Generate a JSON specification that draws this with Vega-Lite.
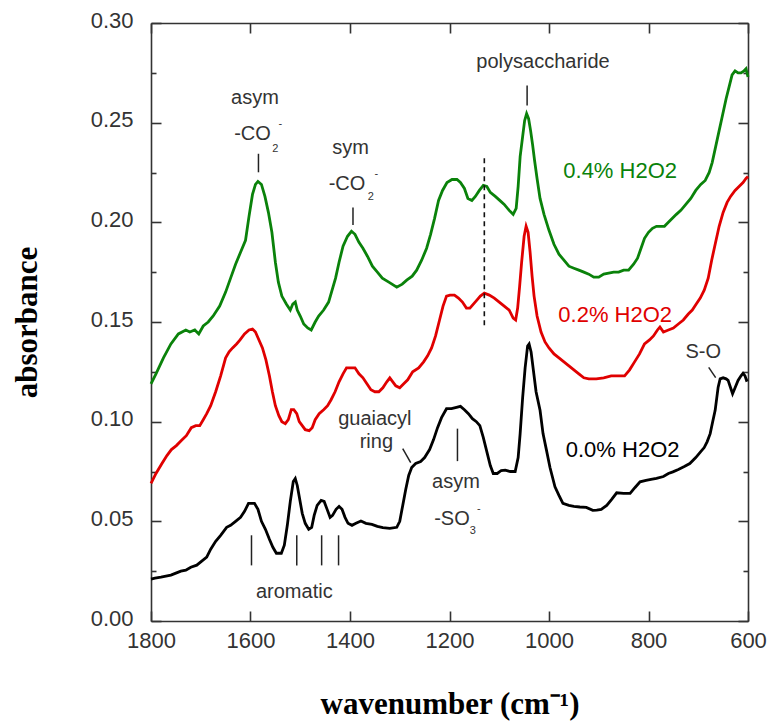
{
  "$schema": "https://vega.github.io/schema/vega-lite/v6.json",
  "width": 597,
  "height": 598,
  "autosize": "none",
  "padding": {"left": 151, "top": 23, "right": 21, "bottom": 104},
  "background": "white",
  "config": {
    "view": {"stroke": null},
    "axis": {
      "domainColor": "#333333",
      "domainWidth": 1.6,
      "tickColor": "#333333",
      "tickWidth": 1.6,
      "grid": false,
      "labelFont": "Liberation Sans",
      "labelFontSize": 22,
      "labelColor": "#333333",
      "labelOverlap": false,
      "labelFlush": false,
      "labelBound": false,
      "titleFont": "Liberation Serif",
      "titleFontSize": 31,
      "titleFontWeight": "bold",
      "titleColor": "#000000"
    }
  },
  "datasets": {
    "spectra": [
      {"wn": 1800, "A": 0.119, "s": "0.4% H2O2"}, {"wn": 1790, "A": 0.124, "s": "0.4% H2O2"}, {"wn": 1775, "A": 0.132, "s": "0.4% H2O2"}, {"wn": 1760, "A": 0.139, "s": "0.4% H2O2"}, {"wn": 1745, "A": 0.144, "s": "0.4% H2O2"}, {"wn": 1730, "A": 0.146, "s": "0.4% H2O2"}, {"wn": 1722, "A": 0.145, "s": "0.4% H2O2"}, {"wn": 1712, "A": 0.146, "s": "0.4% H2O2"}, {"wn": 1704, "A": 0.144, "s": "0.4% H2O2"}, {"wn": 1695, "A": 0.148, "s": "0.4% H2O2"}, {"wn": 1685, "A": 0.15, "s": "0.4% H2O2"}, {"wn": 1675, "A": 0.153, "s": "0.4% H2O2"}, {"wn": 1662, "A": 0.158, "s": "0.4% H2O2"}, {"wn": 1650, "A": 0.165, "s": "0.4% H2O2"}, {"wn": 1640, "A": 0.172, "s": "0.4% H2O2"}, {"wn": 1630, "A": 0.179, "s": "0.4% H2O2"}, {"wn": 1620, "A": 0.185, "s": "0.4% H2O2"}, {"wn": 1610, "A": 0.191, "s": "0.4% H2O2"}, {"wn": 1603, "A": 0.203, "s": "0.4% H2O2"}, {"wn": 1596, "A": 0.214, "s": "0.4% H2O2"}, {"wn": 1590, "A": 0.219, "s": "0.4% H2O2"}, {"wn": 1585, "A": 0.2205, "s": "0.4% H2O2"}, {"wn": 1578, "A": 0.219, "s": "0.4% H2O2"}, {"wn": 1571, "A": 0.213, "s": "0.4% H2O2"}, {"wn": 1564, "A": 0.205, "s": "0.4% H2O2"}, {"wn": 1557, "A": 0.195, "s": "0.4% H2O2"}, {"wn": 1550, "A": 0.18, "s": "0.4% H2O2"}, {"wn": 1544, "A": 0.17, "s": "0.4% H2O2"}, {"wn": 1537, "A": 0.163, "s": "0.4% H2O2"}, {"wn": 1528, "A": 0.159, "s": "0.4% H2O2"}, {"wn": 1520, "A": 0.156, "s": "0.4% H2O2"}, {"wn": 1515, "A": 0.159, "s": "0.4% H2O2"}, {"wn": 1510, "A": 0.16, "s": "0.4% H2O2"}, {"wn": 1506, "A": 0.156, "s": "0.4% H2O2"}, {"wn": 1500, "A": 0.153, "s": "0.4% H2O2"}, {"wn": 1493, "A": 0.149, "s": "0.4% H2O2"}, {"wn": 1485, "A": 0.147, "s": "0.4% H2O2"}, {"wn": 1478, "A": 0.146, "s": "0.4% H2O2"}, {"wn": 1470, "A": 0.15, "s": "0.4% H2O2"}, {"wn": 1463, "A": 0.153, "s": "0.4% H2O2"}, {"wn": 1453, "A": 0.156, "s": "0.4% H2O2"}, {"wn": 1443, "A": 0.16, "s": "0.4% H2O2"}, {"wn": 1436, "A": 0.166, "s": "0.4% H2O2"}, {"wn": 1429, "A": 0.172, "s": "0.4% H2O2"}, {"wn": 1422, "A": 0.18, "s": "0.4% H2O2"}, {"wn": 1414, "A": 0.188, "s": "0.4% H2O2"}, {"wn": 1405, "A": 0.193, "s": "0.4% H2O2"}, {"wn": 1397, "A": 0.1955, "s": "0.4% H2O2"}, {"wn": 1390, "A": 0.194, "s": "0.4% H2O2"}, {"wn": 1382, "A": 0.19, "s": "0.4% H2O2"}, {"wn": 1374, "A": 0.187, "s": "0.4% H2O2"}, {"wn": 1365, "A": 0.183, "s": "0.4% H2O2"}, {"wn": 1355, "A": 0.178, "s": "0.4% H2O2"}, {"wn": 1345, "A": 0.175, "s": "0.4% H2O2"}, {"wn": 1335, "A": 0.172, "s": "0.4% H2O2"}, {"wn": 1322, "A": 0.17, "s": "0.4% H2O2"}, {"wn": 1306, "A": 0.1675, "s": "0.4% H2O2"}, {"wn": 1295, "A": 0.169, "s": "0.4% H2O2"}, {"wn": 1286, "A": 0.171, "s": "0.4% H2O2"}, {"wn": 1275, "A": 0.173, "s": "0.4% H2O2"}, {"wn": 1266, "A": 0.176, "s": "0.4% H2O2"}, {"wn": 1256, "A": 0.181, "s": "0.4% H2O2"}, {"wn": 1246, "A": 0.187, "s": "0.4% H2O2"}, {"wn": 1238, "A": 0.194, "s": "0.4% H2O2"}, {"wn": 1230, "A": 0.202, "s": "0.4% H2O2"}, {"wn": 1222, "A": 0.211, "s": "0.4% H2O2"}, {"wn": 1214, "A": 0.216, "s": "0.4% H2O2"}, {"wn": 1205, "A": 0.22, "s": "0.4% H2O2"}, {"wn": 1195, "A": 0.2215, "s": "0.4% H2O2"}, {"wn": 1185, "A": 0.2215, "s": "0.4% H2O2"}, {"wn": 1178, "A": 0.22, "s": "0.4% H2O2"}, {"wn": 1170, "A": 0.217, "s": "0.4% H2O2"}, {"wn": 1163, "A": 0.212, "s": "0.4% H2O2"}, {"wn": 1155, "A": 0.211, "s": "0.4% H2O2"}, {"wn": 1148, "A": 0.213, "s": "0.4% H2O2"}, {"wn": 1140, "A": 0.216, "s": "0.4% H2O2"}, {"wn": 1132, "A": 0.2185, "s": "0.4% H2O2"}, {"wn": 1125, "A": 0.218, "s": "0.4% H2O2"}, {"wn": 1118, "A": 0.215, "s": "0.4% H2O2"}, {"wn": 1108, "A": 0.213, "s": "0.4% H2O2"}, {"wn": 1099, "A": 0.211, "s": "0.4% H2O2"}, {"wn": 1090, "A": 0.209, "s": "0.4% H2O2"}, {"wn": 1080, "A": 0.206, "s": "0.4% H2O2"}, {"wn": 1072, "A": 0.204, "s": "0.4% H2O2"}, {"wn": 1066, "A": 0.207, "s": "0.4% H2O2"}, {"wn": 1062, "A": 0.218, "s": "0.4% H2O2"}, {"wn": 1058, "A": 0.233, "s": "0.4% H2O2"}, {"wn": 1053, "A": 0.243, "s": "0.4% H2O2"}, {"wn": 1049, "A": 0.251, "s": "0.4% H2O2"}, {"wn": 1045, "A": 0.2545, "s": "0.4% H2O2"}, {"wn": 1041, "A": 0.252, "s": "0.4% H2O2"}, {"wn": 1037, "A": 0.246, "s": "0.4% H2O2"}, {"wn": 1033, "A": 0.239, "s": "0.4% H2O2"}, {"wn": 1029, "A": 0.231, "s": "0.4% H2O2"}, {"wn": 1024, "A": 0.222, "s": "0.4% H2O2"}, {"wn": 1018, "A": 0.212, "s": "0.4% H2O2"}, {"wn": 1010, "A": 0.204, "s": "0.4% H2O2"}, {"wn": 1000, "A": 0.196, "s": "0.4% H2O2"}, {"wn": 990, "A": 0.189, "s": "0.4% H2O2"}, {"wn": 980, "A": 0.184, "s": "0.4% H2O2"}, {"wn": 970, "A": 0.181, "s": "0.4% H2O2"}, {"wn": 960, "A": 0.178, "s": "0.4% H2O2"}, {"wn": 950, "A": 0.177, "s": "0.4% H2O2"}, {"wn": 940, "A": 0.176, "s": "0.4% H2O2"}, {"wn": 930, "A": 0.175, "s": "0.4% H2O2"}, {"wn": 920, "A": 0.174, "s": "0.4% H2O2"}, {"wn": 910, "A": 0.1725, "s": "0.4% H2O2"}, {"wn": 900, "A": 0.1725, "s": "0.4% H2O2"}, {"wn": 890, "A": 0.174, "s": "0.4% H2O2"}, {"wn": 880, "A": 0.1745, "s": "0.4% H2O2"}, {"wn": 870, "A": 0.175, "s": "0.4% H2O2"}, {"wn": 860, "A": 0.175, "s": "0.4% H2O2"}, {"wn": 850, "A": 0.176, "s": "0.4% H2O2"}, {"wn": 840, "A": 0.176, "s": "0.4% H2O2"}, {"wn": 830, "A": 0.179, "s": "0.4% H2O2"}, {"wn": 822, "A": 0.182, "s": "0.4% H2O2"}, {"wn": 815, "A": 0.187, "s": "0.4% H2O2"}, {"wn": 808, "A": 0.192, "s": "0.4% H2O2"}, {"wn": 800, "A": 0.195, "s": "0.4% H2O2"}, {"wn": 792, "A": 0.197, "s": "0.4% H2O2"}, {"wn": 784, "A": 0.198, "s": "0.4% H2O2"}, {"wn": 775, "A": 0.198, "s": "0.4% H2O2"}, {"wn": 768, "A": 0.198, "s": "0.4% H2O2"}, {"wn": 760, "A": 0.2, "s": "0.4% H2O2"}, {"wn": 752, "A": 0.202, "s": "0.4% H2O2"}, {"wn": 744, "A": 0.204, "s": "0.4% H2O2"}, {"wn": 735, "A": 0.206, "s": "0.4% H2O2"}, {"wn": 725, "A": 0.209, "s": "0.4% H2O2"}, {"wn": 715, "A": 0.212, "s": "0.4% H2O2"}, {"wn": 705, "A": 0.216, "s": "0.4% H2O2"}, {"wn": 695, "A": 0.219, "s": "0.4% H2O2"}, {"wn": 686, "A": 0.221, "s": "0.4% H2O2"}, {"wn": 678, "A": 0.225, "s": "0.4% H2O2"}, {"wn": 672, "A": 0.23, "s": "0.4% H2O2"}, {"wn": 665, "A": 0.238, "s": "0.4% H2O2"}, {"wn": 658, "A": 0.246, "s": "0.4% H2O2"}, {"wn": 651, "A": 0.254, "s": "0.4% H2O2"}, {"wn": 644, "A": 0.262, "s": "0.4% H2O2"}, {"wn": 637, "A": 0.269, "s": "0.4% H2O2"}, {"wn": 632, "A": 0.274, "s": "0.4% H2O2"}, {"wn": 626, "A": 0.276, "s": "0.4% H2O2"}, {"wn": 620, "A": 0.275, "s": "0.4% H2O2"}, {"wn": 614, "A": 0.275, "s": "0.4% H2O2"}, {"wn": 608, "A": 0.276, "s": "0.4% H2O2"}, {"wn": 604, "A": 0.277, "s": "0.4% H2O2"}, {"wn": 600, "A": 0.273, "s": "0.4% H2O2"},

      {"wn": 1800, "A": 0.069, "s": "0.2% H2O2"}, {"wn": 1790, "A": 0.074, "s": "0.2% H2O2"}, {"wn": 1778, "A": 0.079, "s": "0.2% H2O2"}, {"wn": 1768, "A": 0.083, "s": "0.2% H2O2"}, {"wn": 1759, "A": 0.086, "s": "0.2% H2O2"}, {"wn": 1749, "A": 0.088, "s": "0.2% H2O2"}, {"wn": 1739, "A": 0.0905, "s": "0.2% H2O2"}, {"wn": 1729, "A": 0.093, "s": "0.2% H2O2"}, {"wn": 1719, "A": 0.097, "s": "0.2% H2O2"}, {"wn": 1710, "A": 0.098, "s": "0.2% H2O2"}, {"wn": 1702, "A": 0.098, "s": "0.2% H2O2"}, {"wn": 1695, "A": 0.101, "s": "0.2% H2O2"}, {"wn": 1688, "A": 0.104, "s": "0.2% H2O2"}, {"wn": 1680, "A": 0.108, "s": "0.2% H2O2"}, {"wn": 1670, "A": 0.115, "s": "0.2% H2O2"}, {"wn": 1660, "A": 0.123, "s": "0.2% H2O2"}, {"wn": 1650, "A": 0.132, "s": "0.2% H2O2"}, {"wn": 1643, "A": 0.135, "s": "0.2% H2O2"}, {"wn": 1636, "A": 0.137, "s": "0.2% H2O2"}, {"wn": 1628, "A": 0.139, "s": "0.2% H2O2"}, {"wn": 1621, "A": 0.141, "s": "0.2% H2O2"}, {"wn": 1612, "A": 0.144, "s": "0.2% H2O2"}, {"wn": 1603, "A": 0.146, "s": "0.2% H2O2"}, {"wn": 1596, "A": 0.1465, "s": "0.2% H2O2"}, {"wn": 1590, "A": 0.145, "s": "0.2% H2O2"}, {"wn": 1583, "A": 0.141, "s": "0.2% H2O2"}, {"wn": 1576, "A": 0.137, "s": "0.2% H2O2"}, {"wn": 1569, "A": 0.131, "s": "0.2% H2O2"}, {"wn": 1562, "A": 0.123, "s": "0.2% H2O2"}, {"wn": 1556, "A": 0.115, "s": "0.2% H2O2"}, {"wn": 1550, "A": 0.108, "s": "0.2% H2O2"}, {"wn": 1543, "A": 0.103, "s": "0.2% H2O2"}, {"wn": 1537, "A": 0.1, "s": "0.2% H2O2"}, {"wn": 1530, "A": 0.099, "s": "0.2% H2O2"}, {"wn": 1524, "A": 0.101, "s": "0.2% H2O2"}, {"wn": 1518, "A": 0.106, "s": "0.2% H2O2"}, {"wn": 1513, "A": 0.106, "s": "0.2% H2O2"}, {"wn": 1507, "A": 0.104, "s": "0.2% H2O2"}, {"wn": 1502, "A": 0.1, "s": "0.2% H2O2"}, {"wn": 1496, "A": 0.098, "s": "0.2% H2O2"}, {"wn": 1490, "A": 0.096, "s": "0.2% H2O2"}, {"wn": 1482, "A": 0.0955, "s": "0.2% H2O2"}, {"wn": 1476, "A": 0.097, "s": "0.2% H2O2"}, {"wn": 1470, "A": 0.101, "s": "0.2% H2O2"}, {"wn": 1462, "A": 0.104, "s": "0.2% H2O2"}, {"wn": 1453, "A": 0.106, "s": "0.2% H2O2"}, {"wn": 1445, "A": 0.108, "s": "0.2% H2O2"}, {"wn": 1438, "A": 0.111, "s": "0.2% H2O2"}, {"wn": 1430, "A": 0.115, "s": "0.2% H2O2"}, {"wn": 1422, "A": 0.12, "s": "0.2% H2O2"}, {"wn": 1414, "A": 0.124, "s": "0.2% H2O2"}, {"wn": 1407, "A": 0.127, "s": "0.2% H2O2"}, {"wn": 1398, "A": 0.127, "s": "0.2% H2O2"}, {"wn": 1390, "A": 0.127, "s": "0.2% H2O2"}, {"wn": 1382, "A": 0.124, "s": "0.2% H2O2"}, {"wn": 1374, "A": 0.122, "s": "0.2% H2O2"}, {"wn": 1366, "A": 0.119, "s": "0.2% H2O2"}, {"wn": 1358, "A": 0.116, "s": "0.2% H2O2"}, {"wn": 1350, "A": 0.115, "s": "0.2% H2O2"}, {"wn": 1342, "A": 0.115, "s": "0.2% H2O2"}, {"wn": 1334, "A": 0.117, "s": "0.2% H2O2"}, {"wn": 1326, "A": 0.12, "s": "0.2% H2O2"}, {"wn": 1320, "A": 0.122, "s": "0.2% H2O2"}, {"wn": 1314, "A": 0.12, "s": "0.2% H2O2"}, {"wn": 1308, "A": 0.118, "s": "0.2% H2O2"}, {"wn": 1300, "A": 0.117, "s": "0.2% H2O2"}, {"wn": 1292, "A": 0.119, "s": "0.2% H2O2"}, {"wn": 1284, "A": 0.121, "s": "0.2% H2O2"}, {"wn": 1274, "A": 0.125, "s": "0.2% H2O2"}, {"wn": 1262, "A": 0.127, "s": "0.2% H2O2"}, {"wn": 1252, "A": 0.13, "s": "0.2% H2O2"}, {"wn": 1244, "A": 0.133, "s": "0.2% H2O2"}, {"wn": 1236, "A": 0.137, "s": "0.2% H2O2"}, {"wn": 1228, "A": 0.143, "s": "0.2% H2O2"}, {"wn": 1220, "A": 0.151, "s": "0.2% H2O2"}, {"wn": 1213, "A": 0.158, "s": "0.2% H2O2"}, {"wn": 1206, "A": 0.163, "s": "0.2% H2O2"}, {"wn": 1199, "A": 0.1635, "s": "0.2% H2O2"}, {"wn": 1190, "A": 0.1635, "s": "0.2% H2O2"}, {"wn": 1182, "A": 0.162, "s": "0.2% H2O2"}, {"wn": 1174, "A": 0.16, "s": "0.2% H2O2"}, {"wn": 1166, "A": 0.157, "s": "0.2% H2O2"}, {"wn": 1159, "A": 0.157, "s": "0.2% H2O2"}, {"wn": 1152, "A": 0.159, "s": "0.2% H2O2"}, {"wn": 1145, "A": 0.161, "s": "0.2% H2O2"}, {"wn": 1138, "A": 0.163, "s": "0.2% H2O2"}, {"wn": 1130, "A": 0.1645, "s": "0.2% H2O2"}, {"wn": 1120, "A": 0.1635, "s": "0.2% H2O2"}, {"wn": 1110, "A": 0.162, "s": "0.2% H2O2"}, {"wn": 1100, "A": 0.16, "s": "0.2% H2O2"}, {"wn": 1090, "A": 0.158, "s": "0.2% H2O2"}, {"wn": 1080, "A": 0.156, "s": "0.2% H2O2"}, {"wn": 1072, "A": 0.152, "s": "0.2% H2O2"}, {"wn": 1067, "A": 0.151, "s": "0.2% H2O2"}, {"wn": 1063, "A": 0.157, "s": "0.2% H2O2"}, {"wn": 1059, "A": 0.168, "s": "0.2% H2O2"}, {"wn": 1055, "A": 0.18, "s": "0.2% H2O2"}, {"wn": 1050, "A": 0.193, "s": "0.2% H2O2"}, {"wn": 1046, "A": 0.198, "s": "0.2% H2O2"}, {"wn": 1042, "A": 0.195, "s": "0.2% H2O2"}, {"wn": 1038, "A": 0.185, "s": "0.2% H2O2"}, {"wn": 1034, "A": 0.173, "s": "0.2% H2O2"}, {"wn": 1030, "A": 0.163, "s": "0.2% H2O2"}, {"wn": 1024, "A": 0.153, "s": "0.2% H2O2"}, {"wn": 1016, "A": 0.145, "s": "0.2% H2O2"}, {"wn": 1008, "A": 0.14, "s": "0.2% H2O2"}, {"wn": 1000, "A": 0.137, "s": "0.2% H2O2"}, {"wn": 990, "A": 0.134, "s": "0.2% H2O2"}, {"wn": 980, "A": 0.132, "s": "0.2% H2O2"}, {"wn": 970, "A": 0.13, "s": "0.2% H2O2"}, {"wn": 960, "A": 0.128, "s": "0.2% H2O2"}, {"wn": 950, "A": 0.126, "s": "0.2% H2O2"}, {"wn": 940, "A": 0.124, "s": "0.2% H2O2"}, {"wn": 930, "A": 0.122, "s": "0.2% H2O2"}, {"wn": 920, "A": 0.1215, "s": "0.2% H2O2"}, {"wn": 905, "A": 0.1215, "s": "0.2% H2O2"}, {"wn": 890, "A": 0.122, "s": "0.2% H2O2"}, {"wn": 875, "A": 0.123, "s": "0.2% H2O2"}, {"wn": 860, "A": 0.123, "s": "0.2% H2O2"}, {"wn": 848, "A": 0.123, "s": "0.2% H2O2"}, {"wn": 838, "A": 0.126, "s": "0.2% H2O2"}, {"wn": 828, "A": 0.13, "s": "0.2% H2O2"}, {"wn": 818, "A": 0.134, "s": "0.2% H2O2"}, {"wn": 808, "A": 0.139, "s": "0.2% H2O2"}, {"wn": 798, "A": 0.141, "s": "0.2% H2O2"}, {"wn": 790, "A": 0.143, "s": "0.2% H2O2"}, {"wn": 782, "A": 0.146, "s": "0.2% H2O2"}, {"wn": 777, "A": 0.1475, "s": "0.2% H2O2"}, {"wn": 770, "A": 0.145, "s": "0.2% H2O2"}, {"wn": 760, "A": 0.146, "s": "0.2% H2O2"}, {"wn": 750, "A": 0.147, "s": "0.2% H2O2"}, {"wn": 740, "A": 0.149, "s": "0.2% H2O2"}, {"wn": 730, "A": 0.151, "s": "0.2% H2O2"}, {"wn": 720, "A": 0.154, "s": "0.2% H2O2"}, {"wn": 712, "A": 0.156, "s": "0.2% H2O2"}, {"wn": 704, "A": 0.159, "s": "0.2% H2O2"}, {"wn": 696, "A": 0.162, "s": "0.2% H2O2"}, {"wn": 688, "A": 0.166, "s": "0.2% H2O2"}, {"wn": 680, "A": 0.172, "s": "0.2% H2O2"}, {"wn": 673, "A": 0.181, "s": "0.2% H2O2"}, {"wn": 666, "A": 0.189, "s": "0.2% H2O2"}, {"wn": 658, "A": 0.198, "s": "0.2% H2O2"}, {"wn": 650, "A": 0.205, "s": "0.2% H2O2"}, {"wn": 642, "A": 0.21, "s": "0.2% H2O2"}, {"wn": 635, "A": 0.213, "s": "0.2% H2O2"}, {"wn": 626, "A": 0.216, "s": "0.2% H2O2"}, {"wn": 618, "A": 0.218, "s": "0.2% H2O2"}, {"wn": 610, "A": 0.22, "s": "0.2% H2O2"}, {"wn": 604, "A": 0.222, "s": "0.2% H2O2"}, {"wn": 600, "A": 0.223, "s": "0.2% H2O2"},

      {"wn": 1800, "A": 0.021, "s": "0.0% H2O2"}, {"wn": 1792, "A": 0.0215, "s": "0.0% H2O2"}, {"wn": 1780, "A": 0.022, "s": "0.0% H2O2"}, {"wn": 1770, "A": 0.0225, "s": "0.0% H2O2"}, {"wn": 1760, "A": 0.023, "s": "0.0% H2O2"}, {"wn": 1750, "A": 0.024, "s": "0.0% H2O2"}, {"wn": 1740, "A": 0.025, "s": "0.0% H2O2"}, {"wn": 1730, "A": 0.0255, "s": "0.0% H2O2"}, {"wn": 1720, "A": 0.027, "s": "0.0% H2O2"}, {"wn": 1708, "A": 0.028, "s": "0.0% H2O2"}, {"wn": 1698, "A": 0.03, "s": "0.0% H2O2"}, {"wn": 1688, "A": 0.032, "s": "0.0% H2O2"}, {"wn": 1680, "A": 0.036, "s": "0.0% H2O2"}, {"wn": 1670, "A": 0.04, "s": "0.0% H2O2"}, {"wn": 1660, "A": 0.043, "s": "0.0% H2O2"}, {"wn": 1648, "A": 0.047, "s": "0.0% H2O2"}, {"wn": 1640, "A": 0.048, "s": "0.0% H2O2"}, {"wn": 1630, "A": 0.05, "s": "0.0% H2O2"}, {"wn": 1620, "A": 0.052, "s": "0.0% H2O2"}, {"wn": 1612, "A": 0.055, "s": "0.0% H2O2"}, {"wn": 1604, "A": 0.059, "s": "0.0% H2O2"}, {"wn": 1592, "A": 0.059, "s": "0.0% H2O2"}, {"wn": 1585, "A": 0.056, "s": "0.0% H2O2"}, {"wn": 1578, "A": 0.05, "s": "0.0% H2O2"}, {"wn": 1570, "A": 0.046, "s": "0.0% H2O2"}, {"wn": 1562, "A": 0.041, "s": "0.0% H2O2"}, {"wn": 1555, "A": 0.037, "s": "0.0% H2O2"}, {"wn": 1548, "A": 0.034, "s": "0.0% H2O2"}, {"wn": 1538, "A": 0.034, "s": "0.0% H2O2"}, {"wn": 1532, "A": 0.038, "s": "0.0% H2O2"}, {"wn": 1526, "A": 0.048, "s": "0.0% H2O2"}, {"wn": 1520, "A": 0.06, "s": "0.0% H2O2"}, {"wn": 1514, "A": 0.07, "s": "0.0% H2O2"}, {"wn": 1510, "A": 0.0715, "s": "0.0% H2O2"}, {"wn": 1506, "A": 0.068, "s": "0.0% H2O2"}, {"wn": 1501, "A": 0.061, "s": "0.0% H2O2"}, {"wn": 1496, "A": 0.054, "s": "0.0% H2O2"}, {"wn": 1490, "A": 0.049, "s": "0.0% H2O2"}, {"wn": 1483, "A": 0.046, "s": "0.0% H2O2"}, {"wn": 1477, "A": 0.047, "s": "0.0% H2O2"}, {"wn": 1472, "A": 0.053, "s": "0.0% H2O2"}, {"wn": 1466, "A": 0.058, "s": "0.0% H2O2"}, {"wn": 1458, "A": 0.0605, "s": "0.0% H2O2"}, {"wn": 1452, "A": 0.06, "s": "0.0% H2O2"}, {"wn": 1446, "A": 0.056, "s": "0.0% H2O2"}, {"wn": 1440, "A": 0.052, "s": "0.0% H2O2"}, {"wn": 1435, "A": 0.053, "s": "0.0% H2O2"}, {"wn": 1428, "A": 0.056, "s": "0.0% H2O2"}, {"wn": 1422, "A": 0.0575, "s": "0.0% H2O2"}, {"wn": 1416, "A": 0.056, "s": "0.0% H2O2"}, {"wn": 1410, "A": 0.052, "s": "0.0% H2O2"}, {"wn": 1404, "A": 0.049, "s": "0.0% H2O2"}, {"wn": 1396, "A": 0.048, "s": "0.0% H2O2"}, {"wn": 1388, "A": 0.049, "s": "0.0% H2O2"}, {"wn": 1378, "A": 0.0502, "s": "0.0% H2O2"}, {"wn": 1368, "A": 0.049, "s": "0.0% H2O2"}, {"wn": 1356, "A": 0.0485, "s": "0.0% H2O2"}, {"wn": 1345, "A": 0.0475, "s": "0.0% H2O2"}, {"wn": 1334, "A": 0.0468, "s": "0.0% H2O2"}, {"wn": 1320, "A": 0.0465, "s": "0.0% H2O2"}, {"wn": 1306, "A": 0.047, "s": "0.0% H2O2"}, {"wn": 1300, "A": 0.05, "s": "0.0% H2O2"}, {"wn": 1294, "A": 0.058, "s": "0.0% H2O2"}, {"wn": 1288, "A": 0.066, "s": "0.0% H2O2"}, {"wn": 1282, "A": 0.073, "s": "0.0% H2O2"}, {"wn": 1276, "A": 0.077, "s": "0.0% H2O2"}, {"wn": 1268, "A": 0.079, "s": "0.0% H2O2"}, {"wn": 1258, "A": 0.08, "s": "0.0% H2O2"}, {"wn": 1250, "A": 0.082, "s": "0.0% H2O2"}, {"wn": 1240, "A": 0.086, "s": "0.0% H2O2"}, {"wn": 1232, "A": 0.091, "s": "0.0% H2O2"}, {"wn": 1224, "A": 0.097, "s": "0.0% H2O2"}, {"wn": 1216, "A": 0.102, "s": "0.0% H2O2"}, {"wn": 1206, "A": 0.1065, "s": "0.0% H2O2"}, {"wn": 1196, "A": 0.1065, "s": "0.0% H2O2"}, {"wn": 1186, "A": 0.1072, "s": "0.0% H2O2"}, {"wn": 1178, "A": 0.1077, "s": "0.0% H2O2"}, {"wn": 1170, "A": 0.106, "s": "0.0% H2O2"}, {"wn": 1162, "A": 0.104, "s": "0.0% H2O2"}, {"wn": 1154, "A": 0.1015, "s": "0.0% H2O2"}, {"wn": 1146, "A": 0.1, "s": "0.0% H2O2"}, {"wn": 1139, "A": 0.098, "s": "0.0% H2O2"}, {"wn": 1132, "A": 0.092, "s": "0.0% H2O2"}, {"wn": 1125, "A": 0.085, "s": "0.0% H2O2"}, {"wn": 1118, "A": 0.078, "s": "0.0% H2O2"}, {"wn": 1112, "A": 0.074, "s": "0.0% H2O2"}, {"wn": 1104, "A": 0.074, "s": "0.0% H2O2"}, {"wn": 1096, "A": 0.0755, "s": "0.0% H2O2"}, {"wn": 1088, "A": 0.0757, "s": "0.0% H2O2"}, {"wn": 1078, "A": 0.075, "s": "0.0% H2O2"}, {"wn": 1068, "A": 0.075, "s": "0.0% H2O2"}, {"wn": 1062, "A": 0.082, "s": "0.0% H2O2"}, {"wn": 1058, "A": 0.094, "s": "0.0% H2O2"}, {"wn": 1053, "A": 0.112, "s": "0.0% H2O2"}, {"wn": 1048, "A": 0.127, "s": "0.0% H2O2"}, {"wn": 1043, "A": 0.138, "s": "0.0% H2O2"}, {"wn": 1040, "A": 0.139, "s": "0.0% H2O2"}, {"wn": 1036, "A": 0.135, "s": "0.0% H2O2"}, {"wn": 1032, "A": 0.127, "s": "0.0% H2O2"}, {"wn": 1026, "A": 0.115, "s": "0.0% H2O2"}, {"wn": 1018, "A": 0.1057, "s": "0.0% H2O2"}, {"wn": 1012, "A": 0.094, "s": "0.0% H2O2"}, {"wn": 1005, "A": 0.0856, "s": "0.0% H2O2"}, {"wn": 998, "A": 0.077, "s": "0.0% H2O2"}, {"wn": 988, "A": 0.0673, "s": "0.0% H2O2"}, {"wn": 980, "A": 0.063, "s": "0.0% H2O2"}, {"wn": 972, "A": 0.059, "s": "0.0% H2O2"}, {"wn": 960, "A": 0.058, "s": "0.0% H2O2"}, {"wn": 950, "A": 0.0575, "s": "0.0% H2O2"}, {"wn": 938, "A": 0.0572, "s": "0.0% H2O2"}, {"wn": 925, "A": 0.057, "s": "0.0% H2O2"}, {"wn": 912, "A": 0.0555, "s": "0.0% H2O2"}, {"wn": 904, "A": 0.0556, "s": "0.0% H2O2"}, {"wn": 895, "A": 0.056, "s": "0.0% H2O2"}, {"wn": 884, "A": 0.058, "s": "0.0% H2O2"}, {"wn": 874, "A": 0.061, "s": "0.0% H2O2"}, {"wn": 864, "A": 0.0643, "s": "0.0% H2O2"}, {"wn": 850, "A": 0.064, "s": "0.0% H2O2"}, {"wn": 837, "A": 0.064, "s": "0.0% H2O2"}, {"wn": 827, "A": 0.067, "s": "0.0% H2O2"}, {"wn": 817, "A": 0.0698, "s": "0.0% H2O2"}, {"wn": 805, "A": 0.0705, "s": "0.0% H2O2"}, {"wn": 795, "A": 0.071, "s": "0.0% H2O2"}, {"wn": 784, "A": 0.0716, "s": "0.0% H2O2"}, {"wn": 770, "A": 0.0725, "s": "0.0% H2O2"}, {"wn": 760, "A": 0.074, "s": "0.0% H2O2"}, {"wn": 751, "A": 0.0748, "s": "0.0% H2O2"}, {"wn": 740, "A": 0.076, "s": "0.0% H2O2"}, {"wn": 728, "A": 0.0775, "s": "0.0% H2O2"}, {"wn": 717, "A": 0.079, "s": "0.0% H2O2"}, {"wn": 705, "A": 0.082, "s": "0.0% H2O2"}, {"wn": 695, "A": 0.085, "s": "0.0% H2O2"}, {"wn": 688, "A": 0.087, "s": "0.0% H2O2"}, {"wn": 682, "A": 0.09, "s": "0.0% H2O2"}, {"wn": 676, "A": 0.094, "s": "0.0% H2O2"}, {"wn": 671, "A": 0.1, "s": "0.0% H2O2"}, {"wn": 666, "A": 0.1057, "s": "0.0% H2O2"}, {"wn": 660, "A": 0.1173, "s": "0.0% H2O2"}, {"wn": 656, "A": 0.1215, "s": "0.0% H2O2"}, {"wn": 650, "A": 0.122, "s": "0.0% H2O2"}, {"wn": 644, "A": 0.1215, "s": "0.0% H2O2"}, {"wn": 640, "A": 0.1207, "s": "0.0% H2O2"}, {"wn": 635, "A": 0.117, "s": "0.0% H2O2"}, {"wn": 631, "A": 0.114, "s": "0.0% H2O2"}, {"wn": 626, "A": 0.117, "s": "0.0% H2O2"}, {"wn": 620, "A": 0.1207, "s": "0.0% H2O2"}, {"wn": 614, "A": 0.123, "s": "0.0% H2O2"}, {"wn": 610, "A": 0.1243, "s": "0.0% H2O2"}, {"wn": 606, "A": 0.123, "s": "0.0% H2O2"}, {"wn": 603, "A": 0.1207, "s": "0.0% H2O2"}, {"wn": 600, "A": 0.121, "s": "0.0% H2O2"}
    ],
    "markers": [
      {"wn": 1584, "A": 0.2344, "wn2": 1584, "A2": 0.2251},
      {"wn": 1394, "A": 0.2074, "wn2": 1394, "A2": 0.1986},
      {"wn": 1044, "A": 0.2686, "wn2": 1044, "A2": 0.2586},
      {"wn": 679, "A": 0.1272, "wn2": 665, "A2": 0.1221},
      {"wn": 1294, "A": 0.0865, "wn2": 1278, "A2": 0.0795},
      {"wn": 1184, "A": 0.0965, "wn2": 1184, "A2": 0.0802},
      {"wn": 1598, "A": 0.043, "wn2": 1598, "A2": 0.0279},
      {"wn": 1507, "A": 0.043, "wn2": 1507, "A2": 0.0279},
      {"wn": 1457, "A": 0.043, "wn2": 1457, "A2": 0.0279},
      {"wn": 1423, "A": 0.043, "wn2": 1423, "A2": 0.0279}
    ],
    "notes": [
      {"wn": 1591, "A": 0.2623, "label": "asym"},
      {"wn": 1596, "A": 0.2442, "label": "-CO"},
      {"wn": 1399, "A": 0.2372, "label": "sym"},
      {"wn": 1406, "A": 0.2193, "label": "-CO"},
      {"wn": 1012, "A": 0.2802, "label": "polysaccharide"},
      {"wn": 690, "A": 0.1349, "label": "S-O"},
      {"wn": 1350, "A": 0.1012, "label": "guaiacyl"},
      {"wn": 1347, "A": 0.09, "label": "ring"},
      {"wn": 1187, "A": 0.0698, "label": "asym"},
      {"wn": 1195, "A": 0.0512, "label": "-SO"},
      {"wn": 1512, "A": 0.0147, "label": "aromatic"}
    ],
    "scripts": [
      {"wn": 1550, "A": 0.2367, "label": "2"},
      {"wn": 1540, "A": 0.2493, "label": "-"},
      {"wn": 1358, "A": 0.2128, "label": "2"},
      {"wn": 1347, "A": 0.2242, "label": "-"},
      {"wn": 1153, "A": 0.0453, "label": "3"},
      {"wn": 1141, "A": 0.0563, "label": "-"}
    ],
    "seriesLabels": [
      {"wn": 857, "A": 0.226, "s": "0.4% H2O2"},
      {"wn": 867, "A": 0.1535, "s": "0.2% H2O2"},
      {"wn": 852, "A": 0.0856, "s": "0.0% H2O2"}
    ]
  },
  "layer": [
    {
      "data": {"name": "spectra"},
      "mark": {"type": "line", "strokeWidth": 2.8, "strokeJoin": "miter"},
      "encoding": {
        "x": {
          "field": "wn", "type": "quantitative",
          "scale": {"domain": [600, 1800], "reverse": true, "nice": false, "zero": false},
          "axis": {
            "orient": "bottom",
            "values": [600, 800, 1000, 1200, 1400, 1600, 1800],
            "format": "d",
            "tickSize": -10,
            "labelPadding": 19,
            "title": "wavenumber (cm⁻¹)",
            "titleBaseline": "alphabetic",
            "titleY": 92
          }
        },
        "y": {
          "field": "A", "type": "quantitative",
          "scale": {"domain": [0, 0.3], "nice": false, "zero": false},
          "axis": {
            "orient": "left",
            "offset": 13,
            "values": [0, 0.05, 0.1, 0.15, 0.2, 0.25, 0.3],
            "format": ".2f",
            "domain": false,
            "ticks": false,
            "labelPadding": 5,
            "labelOffset": -3,
            "title": "absorbance",
            "titleBaseline": "alphabetic",
            "titleX": -102
          }
        },
        "color": {
          "field": "s", "type": "nominal",
          "scale": {"domain": ["0.4% H2O2", "0.2% H2O2", "0.0% H2O2"], "range": ["#0a820a", "#e00000", "#000000"]},
          "legend": null
        },
        "detail": {"field": "s"}
      }
    },
    {
      "data": {"name": "markers"},
      "mark": {"type": "point", "opacity": 0},
      "encoding": {
        "x": {
          "field": "wn", "type": "quantitative",
          "scale": {"domain": [600, 1800], "reverse": true, "nice": false, "zero": false},
          "axis": {"orient": "top", "values": [600, 800, 1000, 1200, 1400, 1600, 1800], "tickSize": -10, "labels": false, "title": null}
        },
        "y": {
          "field": "A", "type": "quantitative",
          "scale": {"domain": [0, 0.3], "nice": false, "zero": false},
          "axis": {"orient": "right", "values": [0, 0.05, 0.1, 0.15, 0.2, 0.25, 0.3], "tickSize": -10, "labels": false, "title": null}
        }
      }
    },
    {
      "data": {"name": "markers"},
      "mark": {"type": "point", "opacity": 0},
      "encoding": {
        "x": {"field": "wn", "type": "quantitative", "axis": null},
        "y": {
          "field": "A", "type": "quantitative",
          "axis": {"orient": "left", "values": [0, 0.05, 0.1, 0.15, 0.2, 0.25, 0.3], "tickSize": -10, "labels": false, "title": null}
        }
      }
    },
    {
      "data": {"name": "markers"},
      "mark": {"type": "point", "opacity": 0},
      "encoding": {
        "x": {"field": "wn", "type": "quantitative", "axis": null},
        "y": {
          "field": "A", "type": "quantitative",
          "axis": {"orient": "left", "values": [0.025, 0.075, 0.125, 0.175, 0.225, 0.275], "tickSize": -5, "domain": false, "labels": false, "title": null}
        }
      }
    },
    {
      "data": {"name": "markers"},
      "mark": {"type": "point", "opacity": 0},
      "encoding": {
        "x": {"field": "wn", "type": "quantitative", "axis": null},
        "y": {
          "field": "A", "type": "quantitative",
          "axis": {"orient": "right", "values": [0.025, 0.075, 0.125, 0.175, 0.225, 0.275], "tickSize": -5, "domain": false, "labels": false, "title": null}
        }
      }
    },
    {
      "data": {"name": "markers"},
      "mark": {"type": "rule", "color": "#222222", "strokeWidth": 1.5},
      "encoding": {
        "x": {"field": "wn", "type": "quantitative", "axis": null},
        "y": {"field": "A", "type": "quantitative", "axis": null},
        "x2": {"field": "wn2"},
        "y2": {"field": "A2"}
      }
    },
    {
      "data": {"values": [{"wn": 1130, "A": 0.2321, "A2": 0.1477}]},
      "mark": {"type": "rule", "color": "#111111", "strokeWidth": 1.6, "strokeDash": [5, 4]},
      "encoding": {
        "x": {"field": "wn", "type": "quantitative", "axis": null},
        "y": {"field": "A", "type": "quantitative", "axis": null},
        "y2": {"field": "A2"}
      }
    },
    {
      "data": {"name": "notes"},
      "mark": {"type": "text", "font": "Liberation Sans", "fontSize": 20, "color": "#333333", "align": "center", "baseline": "middle"},
      "encoding": {
        "x": {"field": "wn", "type": "quantitative", "axis": null},
        "y": {"field": "A", "type": "quantitative", "axis": null},
        "text": {"field": "label"}
      }
    },
    {
      "data": {"name": "scripts"},
      "mark": {"type": "text", "font": "Liberation Sans", "fontSize": 11, "color": "#333333", "align": "center", "baseline": "middle"},
      "encoding": {
        "x": {"field": "wn", "type": "quantitative", "axis": null},
        "y": {"field": "A", "type": "quantitative", "axis": null},
        "text": {"field": "label"}
      }
    },
    {
      "data": {"name": "seriesLabels"},
      "mark": {"type": "text", "font": "Liberation Sans", "fontSize": 22, "align": "center", "baseline": "middle"},
      "encoding": {
        "x": {"field": "wn", "type": "quantitative", "axis": null},
        "y": {"field": "A", "type": "quantitative", "axis": null},
        "text": {"field": "s"},
        "color": {"field": "s", "type": "nominal", "legend": null}
      }
    }
  ],
  "resolve": {"axis": {"x": "independent", "y": "independent"}}
}
